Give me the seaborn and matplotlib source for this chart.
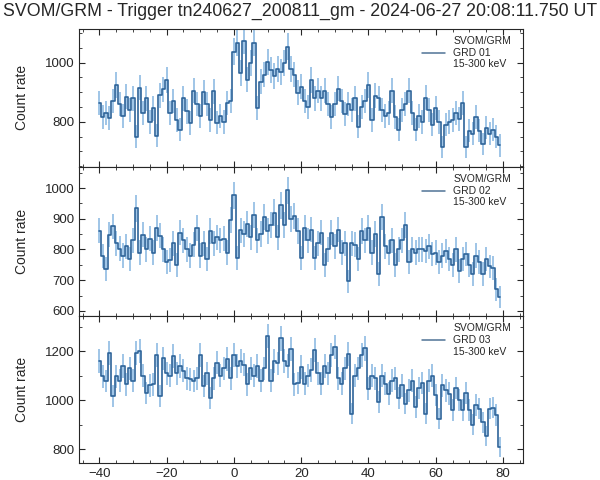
import numpy as np
import pandas as pd
import matplotlib
matplotlib.use("Agg")
import matplotlib.pyplot as plt
import seaborn as sns
from matplotlib.ticker import MultipleLocator
from matplotlib.lines import Line2D

# STYLE SETTINGS
sns.set_style("ticks")
plt.rcParams['font.family'] = ['Liberation Sans', 'DejaVu Sans']
plt.rcParams['xtick.direction'] = 'in'
plt.rcParams['ytick.direction'] = 'in'

# LIGHT CURVE DATA (1 s bins, start time relative to trigger)
t_start = -40
grd01_rate = [
    864, 815, 830, 812, 870, 925, 860, 820, 885, 840,
    880, 750, 915, 830, 880, 800, 845, 753, 890, 910,
    942, 830, 870, 805, 773, 880, 835, 795, 905, 860,
    820, 900, 860, 805, 904, 797, 820, 800, 864, 870,
    1037, 1068, 966, 1075, 943, 1000, 1068, 847, 936, 960,
    1003, 975, 955, 980, 970, 1000, 1054, 980, 960, 898,
    919, 870, 851, 942, 880, 905, 880, 905, 860, 817,
    860, 912, 870, 827, 860, 840, 880, 783, 850, 870,
    925, 807, 888, 880, 840, 820, 830, 905, 815, 773,
    840, 860, 905, 830, 773, 820, 800, 881, 840, 790,
    847, 800, 715, 790, 800, 806, 830, 810, 864, 715,
    770, 760, 817, 770, 725, 780, 760, 773, 750, 720,
]
grd02_rate = [
    861, 779, 736, 848, 875, 820, 803, 780, 810, 770,
    830, 934, 790, 848, 800, 835, 790, 870, 845, 800,
    759, 765, 820, 750, 855, 830, 800, 780, 815, 870,
    780, 820, 770, 860, 820, 840, 830, 835, 790, 896,
    977, 772, 862, 850, 882, 840, 912, 830, 850, 905,
    860, 880, 920, 840, 944, 880, 993, 900, 910, 860,
    772, 870, 830, 865, 772, 820, 855, 750, 800, 855,
    810, 865, 790, 820, 696, 820, 815, 770, 860, 830,
    870, 790, 850, 720, 907, 810, 790, 830, 750, 800,
    830, 880, 760, 800, 790, 800, 800, 795, 810, 785,
    790, 760, 780, 795, 770, 750, 800, 730, 770, 785,
    750, 720, 780, 760, 720, 770, 745, 740, 670, 645,
]
grd03_rate = [
    1159, 1098, 1078, 1192, 1016, 1098, 1080, 1139, 1065, 1130,
    1080, 1192, 1200, 1100, 1029, 1060, 1065, 1185, 1016, 1170,
    1110, 1100, 1180, 1110, 1140, 1120, 1090, 1085, 1078, 1090,
    1185, 1057, 1110, 1010, 1090, 1153, 1100, 1130, 1167, 1090,
    1185, 1140, 1160, 1145, 1065, 1130, 1100, 1140, 1080, 1130,
    1261, 1080, 1160, 1150, 1252, 1160, 1140, 1208, 1065, 1070,
    1136, 1068, 1100, 1123, 1204, 1110, 1068, 1140, 1110, 1184,
    1218, 1090, 1068, 1130, 1190, 945, 1100, 1130, 1184, 1211,
    1047, 1100, 1090, 993, 1100, 1068, 1027, 1080, 1090, 1007,
    1060, 986, 1040, 1080, 973, 1050, 1070, 945, 1080, 1100,
    1020, 925, 1060, 1040, 1027, 960, 1050, 1000, 960, 1030,
    960, 900, 980, 966, 910, 855, 966, 970, 940, 808,
]

detectors = ['GRD 01', 'GRD 02', 'GRD 03']
rates = [grd01_rate, grd02_rate, grd03_rate]
ylims = [(647, 1115), (583, 1069), (743, 1343)]
y_major = [200, 100, 200]
y_minor = [50, 50, 100]

line_color = '#2e6499'
err_color = '#86b6e0'

fig, axes = plt.subplots(
    3, 1, figsize=(6, 4.8), dpi=100, sharex=True,
    gridspec_kw={'height_ratios': [138, 149, 147], 'hspace': 0}
)
fig.subplots_adjust(left=0.132, right=0.872, top=0.94, bottom=0.035)

for ax, det, rate, ylim, ymaj, ymin in zip(axes, detectors, rates, ylims, y_major, y_minor):
    df = pd.DataFrame({'time': np.arange(t_start, t_start + len(rate)), 'rate': rate})
    # poisson errors, counts taken over 0.5 s frames
    df['err'] = np.sqrt(df['rate'] / 0.5)

    ax.errorbar(df['time'], df['rate'], yerr=df['err'], fmt='none',
                ecolor=err_color, elinewidth=1.3, alpha=0.85, zorder=1)
    sns.lineplot(data=df, x='time', y='rate', ax=ax, color=line_color,
                 drawstyle='steps-mid', linewidth=1.2, zorder=2)

    ax.set_ylim(*ylim)
    ax.set_xlim(-46, 86)
    ax.set_ylabel("Count rate", fontsize=10, labelpad=11)
    ax.set_xlabel("")
    ax.yaxis.set_major_locator(MultipleLocator(ymaj))
    ax.yaxis.set_minor_locator(MultipleLocator(ymin))
    ax.xaxis.set_major_locator(MultipleLocator(20))
    ax.xaxis.set_minor_locator(MultipleLocator(5))
    ax.tick_params(which='both', top=True, right=True, labelsize=9.5)
    ax.tick_params(which='major', length=4)
    ax.tick_params(which='minor', length=2)

    handle = Line2D([], [], color='#4f7396', linewidth=1.1)
    ax.legend([handle], ["SVOM/GRM\n" + det + "\n15-300 keV"], loc='upper right',
              bbox_to_anchor=(0.989, 1.0), frameon=False, fontsize=7.5,
              handlelength=2.2, borderaxespad=0.3)

fig.suptitle("SVOM/GRM - Trigger tn240627_200811_gm - 2024-06-27 20:08:11.750 UT",
             fontsize=12.8, y=0.995)

plt.savefig("out.png", dpi=100)
